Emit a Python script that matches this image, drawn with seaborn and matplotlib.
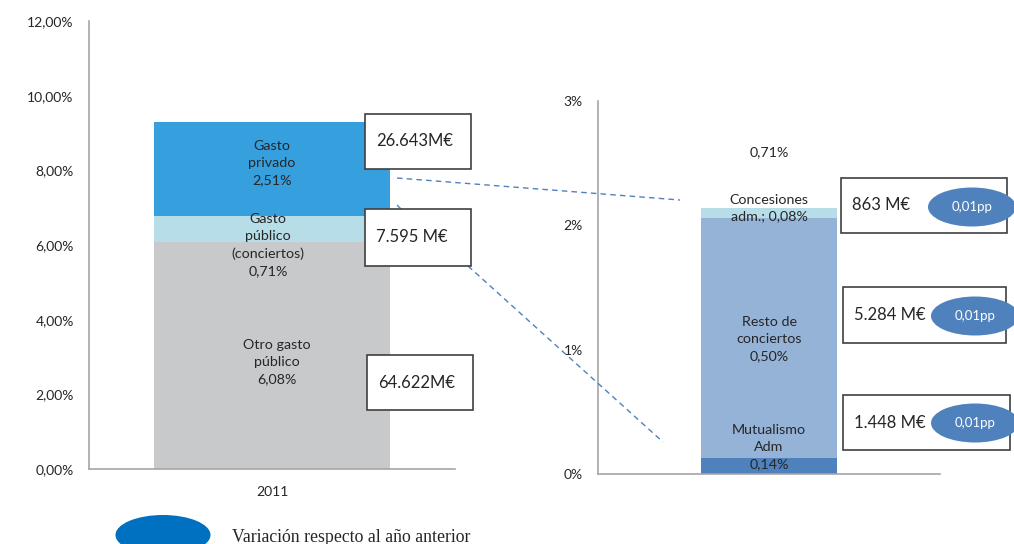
import matplotlib
matplotlib.use("Agg")
import matplotlib.pyplot as plt
import seaborn as sns
import pandas as pd
from matplotlib.patches import Rectangle, Ellipse
from matplotlib.lines import Line2D

# ---------------- data ----------------
left_year = ["2011"]
left_segments = ["Otro gasto público", "Gasto público (conciertos)", "Gasto privado"]
left_values = [6.08, 0.71, 2.51]
left_colors = ["#C8C9CB", "#B7DEE8", "#369FDD"]
left_labels = ["Otro gasto\npúblico\n6,08%", "Gasto\npúblico\n(conciertos)\n0,71%", "Gasto\nprivado\n2,51%"]
left_amounts = ["64.622M€", "7.595 M€", "26.643M€"]
left_yticks = [0, 2, 4, 6, 8, 10, 12]
left_yticklabels = ["0,00%", "2,00%", "4,00%", "6,00%", "8,00%", "10,00%", "12,00%"]

right_segments = ["Mutualismo Adm", "Resto de conciertos", "Concesiones adm."]
right_values = [0.13, 1.93, 0.08]
right_colors = ["#4F81BD", "#95B3D7", "#B7DEE8"]
right_labels = ["Mutualismo\nAdm\n0,14%", "Resto de\nconciertos\n0,50%", "Concesiones\nadm.; 0,08%"]
right_amounts = ["1.448 M€", "5.284 M€", "863 M€"]
right_variation = ["0,01pp", "0,01pp", "0,01pp"]
right_total_label = "0,71%"
right_yticks = [0, 1, 2, 3]
right_yticklabels = ["0%", "1%", "2%", "3%"]

legend_text = "Variación respecto al año anterior"

# ---------------- style ----------------
sns.set_theme(style="white")
plt.rcParams["font.family"] = ["Lato", "DejaVu Sans"]
TXT = "#262626"
AXC = "#A6A6A6"

W, H = 1014, 544
fig = plt.figure(figsize=(W / 100, H / 100), dpi=100)


def fx(px):
    return px / W


def fy(py):
    return 1 - py / H


def stacked(ax, cats, values, colors, width):
    cum = []
    s = 0
    for v in values:
        s += v
        cum.append(s)
    for i in range(len(values) - 1, -1, -1):
        df = pd.DataFrame({"cat": cats, "val": [cum[i]]})
        sns.barplot(data=df, x="cat", y="val", color=colors[i], width=width,
                    saturation=1, ax=ax, edgecolor="none", linewidth=0)
    return cum


def style_axes(ax):
    for sp in ["top", "right"]:
        ax.spines[sp].set_visible(False)
    for sp in ["left", "bottom"]:
        ax.spines[sp].set_color(AXC)
        ax.spines[sp].set_linewidth(1.2)
    ax.set_xlabel("")
    ax.set_ylabel("")
    ax.tick_params(axis="y", length=5, width=1, color=AXC, colors=TXT, labelsize=10, pad=6)


# ---------------- left chart ----------------
axL = fig.add_axes([fx(89), fy(469), fx(455 - 89), (469 - 21) / H])
stacked(axL, left_year, left_values, left_colors, 0.645)
axL.set_xlim(-0.5, 0.5)
axL.set_ylim(0, 12)
axL.set_yticks(left_yticks)
axL.set_yticklabels(left_yticklabels)
style_axes(axL)
axL.tick_params(axis="x", length=0, labelsize=10, colors=TXT, pad=12)

# segment labels (pixel positions in figure)
left_label_pos = [(277, 362), (268, 245), (272, 163)]
for lab, (px, py) in zip(left_labels, left_label_pos):
    fig.text(fx(px), fy(py), lab, ha="center", va="center", fontsize=10.3,
             color=TXT, linespacing=1.5)

# ---------------- right chart ----------------
axR = fig.add_axes([fx(598), fy(474), fx(940 - 598), (474 - 101) / H])
stacked(axR, [""], right_values, right_colors, 0.40)
axR.set_xlim(-0.5, 0.5)
axR.set_ylim(0, 3)
axR.set_yticks(right_yticks)
axR.set_yticklabels(right_yticklabels)
style_axes(axR)
axR.set_xticks([])
axR.set_xticks([-0.5, 0.5], minor=True)
axR.tick_params(axis="x", which="minor", length=6, width=1, color=AXC, direction="out")

right_label_pos = [(769, 447), (769, 339), (769, 208)]
for lab, (px, py) in zip(right_labels, right_label_pos):
    fig.text(fx(px), fy(py), lab, ha="center", va="center", fontsize=10.3,
             color=TXT, linespacing=1.5)
fig.text(fx(769), fy(152), right_total_label, ha="center", va="center",
         fontsize=10.3, color=TXT)

# ---------------- amount boxes ----------------
def box(x0, y0, x1, y1, text):
    r = Rectangle((fx(x0), fy(y1)), fx(x1 - x0), (y1 - y0) / H,
                  transform=fig.transFigure, facecolor="white",
                  edgecolor="#404040", linewidth=1.2, zorder=5)
    fig.patches.append(r)
    fig.text(fx(x0 + 11), fy((y0 + y1) / 2), text, ha="left", va="center",
             fontsize=12, color=TXT, zorder=6)


left_boxes = [(367, 355, 473, 410), (365, 209, 471, 266), (365, 114, 471, 169)]
for (b, t) in zip(left_boxes, left_amounts):
    box(*b, t)

right_boxes = [(843, 395, 1010, 450), (843, 287, 1006, 343), (841, 178, 1007, 233)]
for (b, t) in zip(right_boxes, right_amounts):
    box(*b, t)


def ellipse(cx, cy, w, h, color, text=None, fs=9.5):
    e = Ellipse((fx(cx), fy(cy)), fx(w), h / H, transform=fig.transFigure,
                facecolor=color, edgecolor="none", zorder=7)
    fig.patches.append(e)
    if text:
        fig.text(fx(cx), fy(cy), text, ha="center", va="center", fontsize=fs,
                 color="white", zorder=8)


ell_centers = [(975, 423), (975, 316), (972, 207)]
for (c, t) in zip(ell_centers, right_variation):
    ellipse(c[0], c[1], 88, 39, "#4F81BD", t)

# ---------------- connectors ----------------
for (x0, y0, x1, y1) in [(397, 178, 680, 200), (468, 266, 663, 442), (397, 205, 401, 209)]:
    ln = Line2D([fx(x0), fx(x1)], [fy(y0), fy(y1)], transform=fig.transFigure,
                color="#4F81BD", linewidth=1, linestyle=(0, (4, 3)), zorder=4)
    fig.lines.append(ln)

# ---------------- legend ----------------
ellipse(163, 535, 95, 40, "#0070C0")
fig.text(fx(232), fy(537), legend_text, ha="left", va="center", fontsize=12.8,
         color=TXT, family=["Liberation Serif", "DejaVu Serif"])

fig.savefig("out.png", dpi=100)
